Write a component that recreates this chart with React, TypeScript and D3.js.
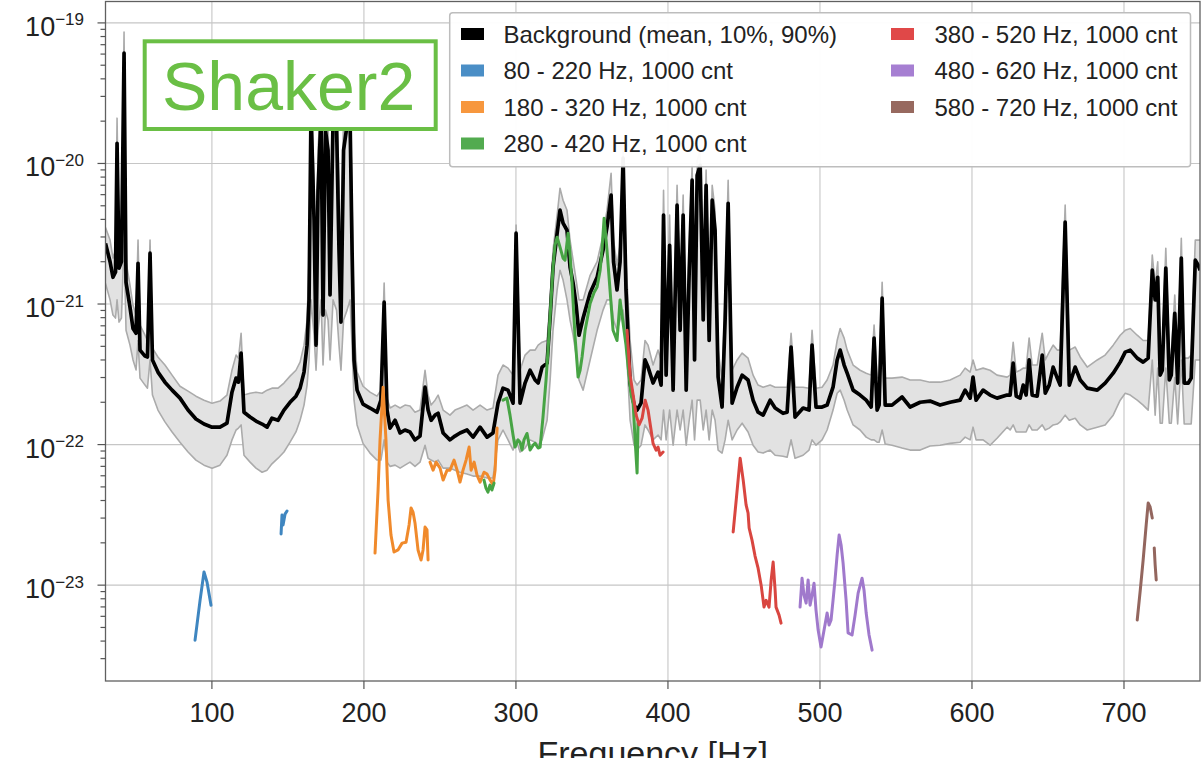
import React from "react";
import * as d3 from "d3";

const W = 1204;
const H = 758;
const PL = 105.5, PR = 1200, PT = 1.5, PB = 681;

const bgFreq = [
  30.0, 33.0, 34.9, 36.6, 37.6, 38.9, 40.5, 42.2, 43.5, 46.1,
  48.1, 50.1, 51.4, 52.7, 56.0, 57.6, 59.3, 60.9, 64.5, 69.1,
  73.8, 79.0, 84.3, 89.5, 94.8, 100.1, 105.3, 109.9, 113.2, 115.9,
  117.5, 119.2, 121.1, 125.1, 129.0, 133.0, 136.3, 139.5, 143.5, 147.4,
  151.4, 155.3, 158.0, 160.6, 162.6, 163.9, 165.2, 167.2, 168.5, 169.8,
  171.8, 173.1, 174.7, 176.4, 177.7, 179.7, 182.0, 183.6, 184.9, 186.6,
  188.9, 190.9, 192.2, 193.5, 195.5, 199.4, 204.0, 208.6, 211.2, 213.3,
  215.2, 217.2, 220.5, 223.8, 227.0, 230.3, 233.6, 236.9, 240.2, 242.2,
  244.2, 246.8, 248.8, 252.1, 256.6, 259.9, 263.2, 267.8, 271.8, 276.4,
  281.0, 284.9, 288.2, 291.5, 294.8, 298.1, 300.1, 302.7, 306.0, 309.3,
  312.6, 314.6, 317.2, 320.5, 322.5, 324.4, 327.1, 329.0, 331.0, 333.6,
  335.6, 337.6, 339.6, 341.5, 344.2, 348.8, 353.4, 357.3, 359.9, 362.6,
  364.2, 366.5, 368.5, 370.5, 372.4, 375.1, 377.7, 379.7, 382.3, 384.9,
  386.9, 390.2, 393.5, 395.5, 397.1, 398.8, 401.1, 403.4, 406.0, 408.0,
  410.0, 412.0, 414.0, 415.9, 417.5, 419.2, 421.2, 423.2, 425.1, 427.1,
  429.1, 431.0, 433.0, 435.6, 437.6, 439.6, 442.2, 445.5, 448.8, 452.7,
  456.0, 459.3, 462.6, 467.2, 470.5, 475.7, 478.4, 481.0, 483.6, 488.9,
  492.8, 494.8, 497.4, 501.4, 504.7, 508.6, 511.3, 513.3, 515.9, 517.9,
  521.8, 526.4, 530.4, 533.7, 535.6, 537.6, 538.9, 540.9, 542.9, 547.4,
  554.0, 559.3, 565.9, 572.4, 579.0, 585.6, 592.2, 595.5, 598.8, 600.7,
  602.7, 607.3, 611.9, 616.5, 623.1, 625.1, 627.1, 629.1, 631.7, 633.7,
  635.6, 637.6, 639.6, 642.9, 646.2, 648.2, 650.8, 653.4, 656.1, 658.0,
  661.3, 664.0, 667.9, 671.2, 675.8, 682.4, 687.6, 692.9, 697.5, 700.8,
  704.1, 708.7, 712.6, 715.9, 718.6, 720.5, 722.2, 723.8, 725.2, 727.5,
  729.8, 731.1, 733.4, 735.3, 737.7, 739.6, 742.3, 744.2, 746.9, 748.8,
  750.1,
];

const bgMean = [
  2.7e-21, 2.0e-21, 1.55e-21, 1.69e-21, 1.39e-20, 1.8e-21, 2.0e-21, 6.1e-20, 1.43e-21, 9.5e-22,
  6.7e-22, 6.2e-22, 1.95e-21, 4.7e-22, 4.26e-22, 4.2e-22, 2.3e-21, 4.0e-22, 3.28e-22, 2.78e-22,
  2.44e-22, 2.14e-22, 1.76e-22, 1.52e-22, 1.4e-22, 1.33e-22, 1.33e-22, 1.42e-22, 2.36e-22, 2.97e-22,
  2.78e-22, 4.48e-22, 1.7e-22, 1.57e-22, 1.47e-22, 1.4e-22, 1.33e-22, 1.54e-22, 1.49e-22, 1.76e-22,
  2.0e-22, 2.21e-22, 2.52e-22, 3.28e-22, 5.1e-22, 1.07e-21, 2.4e-20, 3.95e-21, 5.1e-22, 6.45e-21,
  2.2e-20, 8.35e-22, 1.72e-20, 1.24e-20, 1.16e-21, 2.1e-20, 1.87e-20, 2.42e-21, 7.44e-22, 1.24e-20,
  1.87e-20, 2.03e-20, 2.42e-21, 4.0e-22, 2.44e-22, 1.94e-22, 1.82e-22, 1.7e-22, 2.07e-22, 1.03e-21,
  1.76e-22, 1.31e-22, 1.49e-22, 1.21e-22, 1.27e-22, 1.23e-22, 1.08e-22, 1.15e-22, 2.56e-22, 1.76e-22,
  1.49e-22, 1.62e-22, 1.67e-22, 1.21e-22, 1.08e-22, 1.15e-22, 1.21e-22, 1.27e-22, 1.13e-22, 1.33e-22,
  1.13e-22, 1.21e-22, 1.97e-22, 2.52e-22, 2.44e-22, 1.97e-22, 3.19e-21, 1.97e-22, 2.74e-22, 3.38e-22,
  2.88e-22, 2.74e-22, 3.56e-22, 3.8e-22, 8.1e-22, 1.83e-21, 3.19e-21, 4.65e-21, 3.76e-21, 3.35e-21,
  1.83e-21, 1.41e-21, 9.8e-22, 6.0e-22, 7.95e-22, 1.2e-21, 1.55e-21, 2.42e-21, 3.52e-21, 5.95e-21,
  2.0e-21, 1.26e-21, 2.0e-21, 1.09e-20, 1.26e-21, 2.74e-22, 1.91e-22, 1.76e-22, 1.97e-22, 4.0e-22,
  3.56e-22, 2.74e-22, 3.28e-22, 2.65e-22, 4.29e-21, 3.12e-22, 2.62e-21, 2.44e-22, 5.05e-21, 6.5e-22,
  4.29e-21, 2.44e-22, 1.74e-21, 7.6e-21, 4.0e-22, 8.25e-21, 9.7e-21, 7.7e-22, 7.0e-21, 5.5e-22,
  5.48e-21, 3.35e-21, 3.02e-22, 1.85e-22, 7.7e-22, 5.2e-21, 1.97e-22, 2.56e-22, 3.12e-22, 2.88e-22,
  2.07e-22, 1.7e-22, 1.62e-22, 2.07e-22, 1.82e-22, 1.67e-22, 1.7e-22, 4.94e-22, 1.57e-22, 1.82e-22,
  1.76e-22, 5.1e-22, 1.85e-22, 1.85e-22, 1.91e-22, 2.56e-22, 4.0e-22, 4.7e-22, 3.68e-22, 3.22e-22,
  2.44e-22, 2.25e-22, 2.07e-22, 1.85e-22, 5.72e-22, 1.76e-22, 1.91e-22, 1.1e-21, 1.91e-22, 1.91e-22,
  2.18e-22, 1.85e-22, 2.0e-22, 2.04e-22, 1.91e-22, 2.0e-22, 2.07e-22, 2.44e-22, 2.14e-22, 3.02e-22,
  2.07e-22, 2.44e-22, 2.25e-22, 2.14e-22, 2.25e-22, 2.25e-22, 3.8e-22, 2.21e-22, 2.14e-22, 2.65e-22,
  2.25e-22, 4.0e-22, 2.25e-22, 2.21e-22, 4.33e-22, 2.32e-22, 2.65e-22, 3.56e-22, 2.97e-22, 2.65e-22,
  3.83e-21, 2.65e-22, 3.56e-22, 2.88e-22, 2.52e-22, 2.44e-22, 2.74e-22, 3.22e-22, 3.86e-22, 4.55e-22,
  4.7e-22, 4.12e-22, 3.86e-22, 4.12e-22, 1.74e-21, 1.07e-21, 1.55e-21, 3.12e-22, 3.38e-22, 1.8e-21,
  2.88e-22, 3.12e-22, 8.6e-22, 2.74e-22, 2.12e-21, 2.74e-22, 2.74e-22, 2.97e-22, 2.05e-21, 1.89e-21,
  1.74e-21,
];

const bgP90 = [
  3.5e-21, 2.85e-21, 2.12e-21, 2.42e-21, 2.1e-20, 2.62e-21, 2.75e-21, 8.6e-20, 2.0e-21, 1.36e-21,
  9.8e-22, 8.35e-22, 2.85e-21, 7.08e-22, 6.0e-22, 5.5e-22, 2.85e-21, 4.85e-22, 4.2e-22, 3.68e-22,
  3.12e-22, 2.6e-22, 2.4e-22, 2.21e-22, 2.07e-22, 1.97e-22, 2.04e-22, 2.25e-22, 3.38e-22, 4.33e-22,
  4.12e-22, 6.2e-22, 2.25e-22, 2.32e-22, 2.36e-22, 2.32e-22, 2.44e-22, 2.52e-22, 2.52e-22, 2.74e-22,
  3.07e-22, 3.38e-22, 3.86e-22, 5.1e-22, 7.7e-22, 2.05e-21, 3.32e-20, 7.6e-21, 1.07e-21, 1.24e-20,
  3.06e-20, 2.42e-21, 2.4e-20, 2.03e-20, 3.35e-21, 3.06e-20, 2.82e-20, 7.6e-21, 2.05e-21, 2.2e-20,
  2.82e-20, 3.06e-20, 5.48e-21, 6.5e-22, 3.28e-22, 2.6e-22, 2.36e-22, 2.21e-22, 2.44e-22, 1.41e-21,
  2.14e-22, 1.82e-22, 1.91e-22, 1.82e-22, 1.91e-22, 1.88e-22, 1.7e-22, 1.76e-22, 3.38e-22, 2.25e-22,
  1.91e-22, 2.07e-22, 2.25e-22, 1.76e-22, 1.62e-22, 1.76e-22, 1.82e-22, 1.91e-22, 1.76e-22, 1.91e-22,
  1.76e-22, 1.82e-22, 3.12e-22, 3.68e-22, 3.5e-22, 3.12e-22, 3.64e-21, 3.38e-22, 4.33e-22, 4.7e-22,
  4.7e-22, 5.1e-22, 5.35e-22, 5.5e-22, 1.07e-21, 2.42e-21, 4.29e-21, 6.67e-21, 5.48e-21, 4.65e-21,
  2.85e-21, 2.05e-21, 1.48e-21, 1.07e-21, 1.07e-21, 1.6e-21, 2.0e-21, 3.09e-21, 4.65e-21, 8.5e-21,
  2.85e-21, 1.89e-21, 2.62e-21, 1.24e-20, 2.05e-21, 5.5e-22, 2.88e-22, 2.65e-22, 2.88e-22, 5.5e-22,
  5.1e-22, 3.68e-22, 4.7e-22, 4.0e-22, 6.45e-21, 4.7e-22, 4.29e-21, 4.0e-22, 7.0e-21, 1.07e-21,
  5.95e-21, 4.0e-22, 2.62e-21, 9.7e-21, 6.5e-22, 1.05e-20, 1.24e-20, 1.26e-21, 8.96e-21, 9.05e-22,
  7.0e-21, 4.65e-21, 4.7e-22, 2.88e-22, 1.07e-21, 7.6e-21, 3.38e-22, 4.0e-22, 4.48e-22, 4.12e-22,
  3.12e-22, 2.65e-22, 2.56e-22, 2.65e-22, 2.56e-22, 2.56e-22, 2.56e-22, 6.2e-22, 2.56e-22, 2.56e-22,
  2.52e-22, 6.5e-22, 2.52e-22, 2.56e-22, 2.88e-22, 3.68e-22, 5.5e-22, 6.7e-22, 5.72e-22, 4.7e-22,
  3.68e-22, 3.38e-22, 3.22e-22, 3.12e-22, 7.08e-22, 2.97e-22, 3.02e-22, 1.43e-21, 2.97e-22, 2.97e-22,
  3.02e-22, 2.88e-22, 2.88e-22, 2.78e-22, 2.78e-22, 2.88e-22, 3.12e-22, 3.5e-22, 3.28e-22, 4.0e-22,
  3.38e-22, 3.5e-22, 3.38e-22, 3.12e-22, 3.02e-22, 3.12e-22, 5.35e-22, 3.28e-22, 3.38e-22, 3.5e-22,
  3.5e-22, 5.72e-22, 3.68e-22, 3.68e-22, 6.2e-22, 4.0e-22, 4.55e-22, 5.1e-22, 4.7e-22, 4.7e-22,
  5.05e-21, 4.7e-22, 4.94e-22, 4.2e-22, 3.56e-22, 4.0e-22, 4.33e-22, 5.1e-22, 6.0e-22, 6.5e-22,
  6.7e-22, 6.0e-22, 5.5e-22, 5.5e-22, 2.23e-21, 1.36e-21, 2.0e-21, 4.7e-22, 4.85e-22, 2.49e-21,
  4.33e-22, 4.33e-22, 1.16e-21, 4.12e-22, 2.94e-21, 4.12e-22, 4.12e-22, 4.33e-22, 2.85e-21, 2.85e-21,
  2.85e-21,
];

const bgP10 = [
  1.4e-21, 1.07e-21, 8.35e-22, 7.95e-22, 1.07e-21, 7.44e-22, 7.95e-22, 2.85e-21, 6.5e-22, 5.1e-22,
  4.0e-22, 3.4e-22, 5.5e-22, 2.97e-22, 2.65e-22, 2.52e-22, 4.0e-22, 2.25e-22, 1.76e-22, 1.45e-22,
  1.23e-22, 1.04e-22, 8.85e-23, 7.76e-23, 7.14e-23, 6.8e-23, 7.14e-23, 8.4e-23, 1.08e-22, 1.27e-22,
  1.31e-22, 1.38e-22, 8.4e-23, 7.5e-23, 6.8e-23, 6.36e-23, 6.58e-23, 7.3e-23, 8.0e-23, 8.85e-23,
  1.04e-22, 1.23e-22, 1.49e-22, 1.91e-22, 2.65e-22, 4.0e-22, 1.07e-21, 6.0e-22, 3.38e-22, 6.5e-22,
  1.07e-21, 3.68e-22, 9.05e-22, 7.7e-22, 4.0e-22, 1.07e-21, 9.05e-22, 5.1e-22, 3.38e-22, 7.7e-22,
  9.05e-22, 1.07e-21, 5.1e-22, 2.07e-22, 1.38e-22, 1.02e-22, 8.7e-23, 7.76e-23, 7.76e-23, 1.08e-22,
  7.5e-23, 7.0e-23, 7.14e-23, 6.8e-23, 7.14e-23, 7.5e-23, 7.0e-23, 7.5e-23, 9.9e-23, 8.0e-23,
  7.76e-23, 7.5e-23, 7.76e-23, 6.8e-23, 6.8e-23, 6.58e-23, 6.36e-23, 6.17e-23, 5.97e-23, 5.97e-23,
  5.78e-23, 5.78e-23, 1.08e-22, 1.27e-22, 1.08e-22, 9.14e-23, 1.08e-22, 8.85e-23, 9.45e-23, 1.08e-22,
  1.04e-22, 9.9e-23, 1.08e-22, 1.49e-22, 2.88e-22, 6.5e-22, 1.26e-21, 1.74e-21, 1.48e-21, 1.07e-21,
  7.7e-22, 6.0e-22, 4.33e-22, 2.88e-22, 2.44e-22, 4.0e-22, 6.5e-22, 9.05e-22, 1.07e-21, 1.07e-21,
  7.7e-22, 6.5e-22, 7.7e-22, 9.05e-22, 5.5e-22, 1.49e-22, 9.9e-23, 9.14e-23, 9.9e-23, 1.38e-22,
  1.27e-22, 1.08e-22, 1.17e-22, 1.08e-22, 1.76e-22, 1.08e-22, 1.76e-22, 9.9e-23, 1.76e-22, 1.27e-22,
  1.76e-22, 9.9e-23, 1.49e-22, 2.07e-22, 1.08e-22, 2.07e-22, 2.07e-22, 1.27e-22, 1.76e-22, 1.08e-22,
  1.76e-22, 1.49e-22, 9.14e-23, 8.7e-23, 1.08e-22, 1.49e-22, 1.08e-22, 1.27e-22, 1.42e-22, 1.23e-22,
  9.9e-23, 8.85e-23, 8.7e-23, 9.14e-23, 8.4e-23, 8.27e-23, 8.13e-23, 1.08e-22, 8.0e-23, 8.4e-23,
  9.14e-23, 1.08e-22, 9.9e-23, 1.08e-22, 1.27e-22, 1.76e-22, 2.32e-22, 2.44e-22, 2.07e-22, 1.76e-22,
  1.38e-22, 1.27e-22, 1.13e-22, 1.08e-22, 1.08e-22, 1.04e-22, 1.04e-22, 1.27e-22, 1.01e-22, 9.9e-23,
  9.45e-23, 9.14e-23, 9.14e-23, 9.76e-23, 9.9e-23, 1.02e-22, 1.04e-22, 1.13e-22, 1.08e-22, 1.33e-22,
  1.08e-22, 1.08e-22, 9.9e-23, 1.11e-22, 1.33e-22, 1.27e-22, 1.38e-22, 1.23e-22, 1.23e-22, 1.23e-22,
  1.23e-22, 1.38e-22, 1.27e-22, 1.27e-22, 1.38e-22, 1.27e-22, 1.31e-22, 1.38e-22, 1.4e-22, 1.45e-22,
  1.62e-22, 1.49e-22, 1.54e-22, 1.38e-22, 1.27e-22, 1.33e-22, 1.38e-22, 1.62e-22, 2.07e-22, 2.32e-22,
  2.25e-22, 2.07e-22, 1.91e-22, 1.76e-22, 4.0e-22, 1.62e-22, 3.5e-22, 1.42e-22, 1.42e-22, 3.5e-22,
  1.42e-22, 1.42e-22, 3.0e-22, 1.4e-22, 4.0e-22, 1.4e-22, 1.4e-22, 1.4e-22, 4.0e-22, 4.0e-22,
  4.0e-22,
];

const blueFreq = [88.9, 92.2, 94.8, 96.8, 99.4, 120, 145.5, 146.1, 146.8, 148.1, 149.4];
const blueAmp = [4.06e-24, 7.8e-24, 1.24e-23, 1.05e-23, 7.2e-24, null, 2.31e-23, 3.15e-23, 2.68e-23, 3.2e-23, 3.37e-23];

const orangeFreq = [
  207.3, 209.3, 210.6, 212.6, 214.5, 215.9, 217.8, 219.8, 222.4, 225.1, 227.7, 229.7, 231.0, 232.3,
  233.6, 235.6, 237.6, 238.9, 240.2, 241.5, 242.2, 242.9, 243.5, 245.5, 247.5, 250.1, 252.1, 254.7,
  256.6, 259.3, 261.3, 263.2, 265.2, 267.2, 269.2, 270.5, 272.5, 274.4, 276.4, 279.0, 281.0, 283.0,
  285.0, 286.3, 287.6,
];
const orangeAmp = [
  1.69e-23, 4.75e-23, 1.08e-22, 2.56e-22, 1.08e-22, 4.03e-23, 2.27e-23, 1.72e-23, 1.78e-23, 1.99e-23,
  2.02e-23, 2.68e-23, 3.54e-23, 3.31e-23, 2.77e-23, 1.78e-23, 1.51e-23, 1.78e-23, 2.59e-23, 2.47e-23,
  1.51e-23, null, 7.5e-23, 6.58e-23, 7.5e-23, 6.8e-23, 5.59e-23, 6.58e-23, 6.58e-23, 7.76e-23,
  6.58e-23, 5.41e-23, 6.58e-23, 7.76e-23, 9.6e-23, 6.58e-23, 7.5e-23, 6.07e-23, 5.41e-23, 6.36e-23,
  6.17e-23, 5.59e-23, 5.15e-23, 6.58e-23, 1.31e-22,
];

const greenFreq = [
  279.0, 280.3, 281.6, 282.9, 284.2, 285.6, 288.5, 291.5, 294.1, 296.1, 298.1, 299.4, 301.4, 302.7,
  304.0, 305.3, 307.3, 309.3, 311.3, 312.6, 314.6, 315.9, 317.8, 319.8, 321.1, 323.1, 324.4, 325.7,
  327.1, 329.0, 331.0, 332.3, 334.3, 335.6, 336.9, 338.9, 340.9, 342.2, 343.5, 345.5, 348.8, 351.4,
  353.4, 355.4, 356.6, 358.0, 359.9, 361.9, 363.9, 366.5, 368.5, 370.5, 372.4, 373.8, 375.8, 377.1,
  378.4, 379.7, 380.3,
];
const greenAmp = [
  5.59e-23, 4.9e-23, 4.59e-23, 5.15e-23, 4.75e-23, 5.32e-23, null, 2.07e-22, 2.14e-22, 1.62e-22,
  1.17e-22, 9.6e-23, 1.08e-22, 1.04e-22, 9.14e-23, 1.08e-22, 1.2e-22, 9.14e-23, 9.9e-23, 1.02e-22,
  9.45e-23, 9.6e-23, 1.57e-22, 2.88e-22, 4.7e-22, 1.07e-21, 1.83e-21, 2.62e-21, 2.99e-21, 2.54e-21,
  2.12e-21, 2.05e-21, 3.19e-21, 2.23e-21, 1.41e-21, 5.83e-22, 3.02e-22, 3.38e-22, 4.2e-22, 6.5e-22,
  1.01e-21, 1.21e-21, 1.32e-21, 1.74e-21, 2.42e-21, 4.08e-21, 2.42e-21, 1.26e-21, 6.5e-22, 5.5e-22,
  1.07e-21, 7.3e-22, 5.1e-22, 3.56e-22, 2.25e-22, 1.97e-22, 1.08e-22, 6.27e-23, 1.42e-22,
];

const redFreq = [
  373.1, 375.1, 377.1, 379.1, 381.0, 383.0, 385.0, 386.9, 388.9, 390.2, 392.2, 393.5, 394.8, 396.8,
  420, 442.9, 444.9, 447.5, 449.5, 451.4, 452.7, 453.4, 455.3, 457.3, 459.3, 461.3, 463.2, 464.6,
  466.5, 467.9, 469.2, 470.5, 471.1, 473.1, 474.4,
];
const redAmp = [
  6.5e-22, 3.12e-22, 2.25e-22, 1.62e-22, 1.38e-22, 1.54e-22, 2.07e-22, 1.76e-22, 1.27e-22, 1.02e-22,
  9.14e-23, 9.6e-23, 8.4e-23, 8.85e-23, null, 2.39e-23, 4.03e-23, 8.0e-23, 5.59e-23, 3.72e-23,
  3.26e-23, 2.55e-23, 2.09e-23, 1.61e-23, 1.32e-23, 1.0e-23, 6.98e-24, 7.8e-24, 6.98e-24, 1.09e-23,
  1.46e-23, 9.2e-24, 6.98e-24, 6.12e-24, 5.37e-24,
];

const purpleFreq = [
  486.9, 488.2, 489.5, 490.9, 492.2, 493.5, 494.8, 496.1, 497.4, 498.8, 500.7, 502.7, 504.7, 506.0,
  507.3, 508.6, 509.9, 511.3, 512.6, 513.9, 515.2, 517.2, 518.5, 521.1, 523.1, 525.1, 527.7, 529.0,
  530.4, 532.3, 534.3,
];
const purpleAmp = [
  6.98e-24, 1.12e-23, 8.5e-24, 7.45e-24, 1.09e-23, 7.2e-24, 8.5e-24, 1.03e-23, 6.65e-24, 4.79e-24,
  3.63e-24, 4.79e-24, 6.33e-24, 5.2e-24, 5.65e-24, 7.8e-24, 1.09e-23, 1.64e-23, 2.27e-23, 1.93e-23,
  1.44e-23, 7.8e-24, 4.57e-24, 4.42e-24, 6.12e-24, 8.77e-24, 1.12e-23, 9.2e-24, 6.33e-24, 4.42e-24,
  3.45e-24,
];

const brownFreq = [708.7, 710.7, 712.6, 714.6, 715.9, 717.2, 718.6, 719.3, 719.9, 720.5, 721.2];
const brownAmp = [5.65e-24, 9.2e-24, 1.51e-23, 2.68e-23, 3.84e-23, 3.6e-23, 3.0e-23, null, 1.84e-23, 1.39e-23, 1.09e-23];

const xTicks = [100, 200, 300, 400, 500, 600, 700];
const yTickExps = [-23, -22, -21, -20, -19];

const legendLabels = [
  "Background (mean, 10%, 90%)",
  "80 - 220 Hz, 1000 cnt",
  "180 - 320 Hz, 1000 cnt",
  "280 - 420 Hz, 1000 cnt",
  "380 - 520 Hz, 1000 cnt",
  "480 - 620 Hz, 1000 cnt",
  "580 - 720 Hz, 1000 cnt",
];
const legendColors = ["#000000", "#4a8ec6", "#f7973e", "#52ab4f", "#e04848", "#a67fd2", "#97695f"];
const lineColors = ["#000000", "#3f86c0", "#f08a2c", "#47a444", "#d94640", "#a079cc", "#93665e"];

const FONT = "'Liberation Sans', Arial, Helvetica, sans-serif";

export default function App() {
  const x = d3.scaleLinear().domain([30, 750]).range([PL, PR]);
  const y = d3.scaleLog().domain([2.08e-24, 1.42e-19]).range([PB, PT]);

  const idx = d3.range(bgFreq.length);
  const band = d3
    .area<number>()
    .x((i) => x(bgFreq[i]))
    .y0((i) => y(bgP10[i]))
    .y1((i) => y(bgP90[i]))(idx) as string;
  const lineOf = (vals: number[]) =>
    d3
      .line<number>()
      .x((i) => x(bgFreq[i]))
      .y((i) => y(vals[i]))(idx) as string;

  const series = [
    { f: blueFreq, a: blueAmp },
    { f: orangeFreq, a: orangeAmp },
    { f: greenFreq, a: greenAmp },
    { f: redFreq, a: redAmp },
    { f: purpleFreq, a: purpleAmp },
    { f: brownFreq, a: brownAmp },
  ];
  const segLine = d3
    .line<[number, number | null]>()
    .defined((d) => d[1] != null)
    .x((d) => x(d[0]))
    .y((d) => y(d[1] as number));

  const minorTicks: number[] = [];
  for (let e = -24; e <= -20; e++) {
    for (let m = 2; m <= 9; m++) {
      const v = m * Math.pow(10, e);
      if (v >= 2.08e-24 && v <= 1.42e-19) minorTicks.push(v);
    }
  }

  const rows = [34, 70.5, 107, 143.5];
  const legendPos = [
    [461, rows[0], 503.5],
    [461, rows[1], 503.5],
    [461, rows[2], 503.5],
    [461, rows[3], 503.5],
    [891, rows[0], 934.5],
    [891, rows[1], 934.5],
    [891, rows[2], 934.5],
  ];

  return (
    <div style={{ position: "absolute", left: 0, top: 0 }}>
      <svg width={W} height={H} style={{ display: "block", background: "#fff" }} fontFamily={FONT}>
        <defs>
          <clipPath id="plotclip">
            <rect x={PL} y={PT} width={PR - PL} height={PB - PT} />
          </clipPath>
        </defs>
        <rect x={0} y={0} width={W} height={H} fill="#fff" />
        <g stroke="#c6c6c6" strokeWidth={1.1}>
          {xTicks.map((t) => (
            <line key={"gx" + t} x1={x(t)} x2={x(t)} y1={PT} y2={PB} />
          ))}
          {yTickExps.map((e) => (
            <line key={"gy" + e} x1={PL} x2={PR} y1={y(Math.pow(10, e))} y2={y(Math.pow(10, e))} />
          ))}
        </g>
        <g clipPath="url(#plotclip)">
          <path d={band} fill="#e2e2e2" stroke="none" />
          <path d={lineOf(bgP90)} fill="none" stroke="#ababab" strokeWidth={1.6} strokeLinejoin="round" />
          <path d={lineOf(bgP10)} fill="none" stroke="#ababab" strokeWidth={1.6} strokeLinejoin="round" />
          <path d={lineOf(bgMean)} fill="none" stroke="#000" strokeWidth={3.7} strokeLinejoin="round" />
          {series.map((s, k) => (
            <path
              key={"s" + k}
              d={segLine(s.f.map((f, i) => [f, s.a[i]] as [number, number | null])) as string}
              fill="none"
              stroke={lineColors[k + 1]}
              strokeWidth={3}
              strokeLinejoin="round"
              strokeLinecap="round"
            />
          ))}
        </g>
        <rect x={PL} y={PT} width={PR - PL} height={PB - PT} fill="none" stroke="#606060" strokeWidth={1.3} />
        <g stroke="#555" strokeWidth={1.2}>
          {yTickExps.map((e) => (
            <line key={"yt" + e} x1={PL - 8} x2={PL} y1={y(Math.pow(10, e))} y2={y(Math.pow(10, e))} />
          ))}
          {minorTicks.map((v, i) => (
            <line key={"ym" + i} x1={PL - 5} x2={PL} y1={y(v)} y2={y(v)} />
          ))}
          {xTicks.map((t) => (
            <line key={"xt" + t} x1={x(t)} x2={x(t)} y1={PB} y2={PB + 8} />
          ))}
        </g>
        {yTickExps.map((e) => (
          <text key={"yl" + e} x={84} y={y(Math.pow(10, e)) + 13} textAnchor="end" fill="#222">
            <tspan fontSize={27}>10</tspan>
            <tspan fontSize={17} dy={-10.5}>{"\u2212" + Math.abs(e)}</tspan>
          </text>
        ))}
        {xTicks.map((t) => (
          <text key={"xl" + t} x={x(t)} y={722} textAnchor="middle" fontSize={27} fill="#222">
            {t}
          </text>
        ))}
        <text x={(PL + PR) / 2} y={765} textAnchor="middle" fontSize={34} fill="#222">
          Frequency [Hz]
        </text>
        <rect x={449.7} y={12.7} width={740.8} height={154} rx={3} fill="#fff" fillOpacity={0.95} stroke="#bdbdbd" strokeWidth={1.5} />
        {legendLabels.map((lab, i) => (
          <g key={"lg" + i}>
            <rect x={legendPos[i][0]} y={legendPos[i][1] - 6} width={23} height={12} fill={legendColors[i]} />
            <text x={legendPos[i][2]} y={legendPos[i][1] + 8.5} fontSize={24} fill="#222">
              {lab}
            </text>
          </g>
        ))}
        <rect x={144.7} y={41.3} width={291} height={87.7} fill="#fff" stroke="#6abf45" strokeWidth={4} />
        <text x={162} y={110} fontSize={68} fill="#6abf45">
          Shaker2
        </text>
      </svg>
    </div>
  );
}
